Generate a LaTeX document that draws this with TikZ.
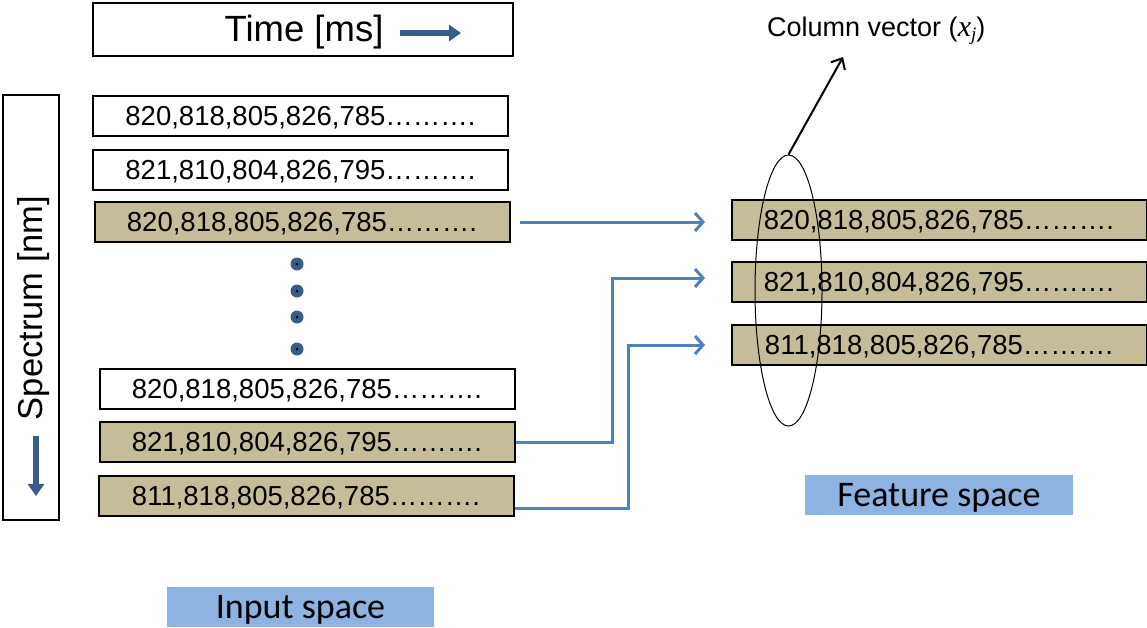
\documentclass[tikz,border=0pt]{standalone}
\usepackage{fontspec}
\setmainfont{Liberation Sans}
\newfontfamily\carlitofont{Carlito}
\newfontfamily\tmsfont{Liberation Serif}
\usetikzlibrary{arrows.meta,shapes.geometric}
\definecolor{tanfill}{HTML}{C4BD97}
\definecolor{arrblue}{HTML}{4F81BD}
\definecolor{lblue}{HTML}{8DB3E2}
\definecolor{dblue}{HTML}{385D8A}
\tikzset{
  rowbox/.style={draw=black, line width=2pt, minimum width=415pt, minimum height=40pt, inner sep=0pt, text height=19.7pt, text depth=0pt, font=\fontsize{27.5}{30}\selectfont},
  tanrow/.style={rowbox, fill=tanfill},
  whiterow/.style={rowbox, fill=white},
  spacelabel/.style={fill=lblue, minimum height=40pt, inner sep=0pt, text height=22.5pt, text depth=0pt, font=\carlitofont\fontsize{36}{40}\selectfont},
  conn/.style={draw=arrblue, line width=3pt, -{Straight Barb[length=8pt,width=18pt,line width=3pt]}},
  dotmark/.style={circle, fill=dblue, minimum size=13pt, inner sep=0pt}
}
\begin{document}
\begin{tikzpicture}[x=1pt,y=-1pt]
\useasboundingbox (0,0) rectangle (1147,627);
% Time box
\node[draw, line width=2pt, minimum width=420pt, minimum height=53pt, inner sep=0pt] (time) at (303,29.5) {};
\node[font=\fontsize{36.5}{40}\selectfont, anchor=center] (timetxt) at (304,32) {Time [ms]};
\coordinate (ta1) at (400,33);
\coordinate (ta2) at (461,33);
\draw[dblue, line width=6pt, -{Triangle[length=12pt,width=16pt]}] (ta1) -- (ta2);
% Spectrum box
\node[draw, line width=2pt, minimum width=56pt, minimum height=425pt, inner sep=0pt] (spec) at (31,307.5) {};
\node[rotate=90, font=\fontsize{34.5}{38}\selectfont] (spectxt) at (34,308) {Spectrum [nm]};
\coordinate (sa1) at (36,436);
\coordinate (sa2) at (36,496);
\draw[dblue, line width=6pt, -{Triangle[length=12pt,width=16pt]}] (sa1) -- (sa2);
% Left rows
\node[whiterow] (l1) at (300.5,116) {820,818,805,826,785……….};
\node[whiterow] (l2) at (300.5,169.5) {821,810,804,826,795……….};
\node[tanrow] (l3) at (302,222) {820,818,805,826,785……….};
\node[dotmark] (d1) at (297,264) {};
\node[dotmark] (d2) at (297,291) {};
\node[dotmark] (d3) at (297,317) {};
\node[dotmark] (d4) at (297,349) {};
\foreach \d in {d1,d2,d3,d4} \fill (\d) circle (1.5pt);
\node[whiterow] (l4) at (307,389) {820,818,805,826,785……….};
\node[tanrow] (l5) at (307,442) {821,810,804,826,795……….};
\node[tanrow] (l6) at (306,496) {811,818,805,826,785……….};
% Right rows
\node[tanrow] (r1) at (939,219.5) {820,818,805,826,785……….};
\node[tanrow] (r2) at (939,282) {821,810,804,826,795……….};
\node[tanrow] (r3) at (939,345) {811,818,805,826,785……….};
% connectors
\coordinate (c1) at (705,222);
\coordinate (c2) at (705,278);
\coordinate (c3) at (705,345);
\draw[conn] (l3.east) ++(9,0) -- (c1);
\draw[conn] (l5.east) -- (612,442) -- (612,278) -- (c2);
\draw[conn] (l6.east) ++(0,12) -- (628,508) -- (628,345) -- (c3);
% ellipse
\node[draw, ellipse, line width=1pt, minimum width=67pt, minimum height=271pt, inner sep=0pt] (ell) at (788.5,290.5) {};
% column vector
\node[font=\fontsize{27}{30}\selectfont, anchor=west, inner sep=0pt] (col) at (767,31) {Column vector ({\tmsfont\itshape\fontsize{30}{30}\selectfont x\raisebox{-0.3ex}{\fontsize{19}{19}\selectfont j}})};
\coordinate (colarr) at (843,57);
\draw[line width=2pt, -{Straight Barb[length=9pt,width=16pt,line width=2pt]}] (ell.north) -- (colarr);
% labels
\node[spacelabel, minimum width=267pt] (inp) at (300.5,607) {Input space};
\node[spacelabel, minimum width=268pt] (feat) at (939,495) {Feature space};
\end{tikzpicture}
\end{document}
